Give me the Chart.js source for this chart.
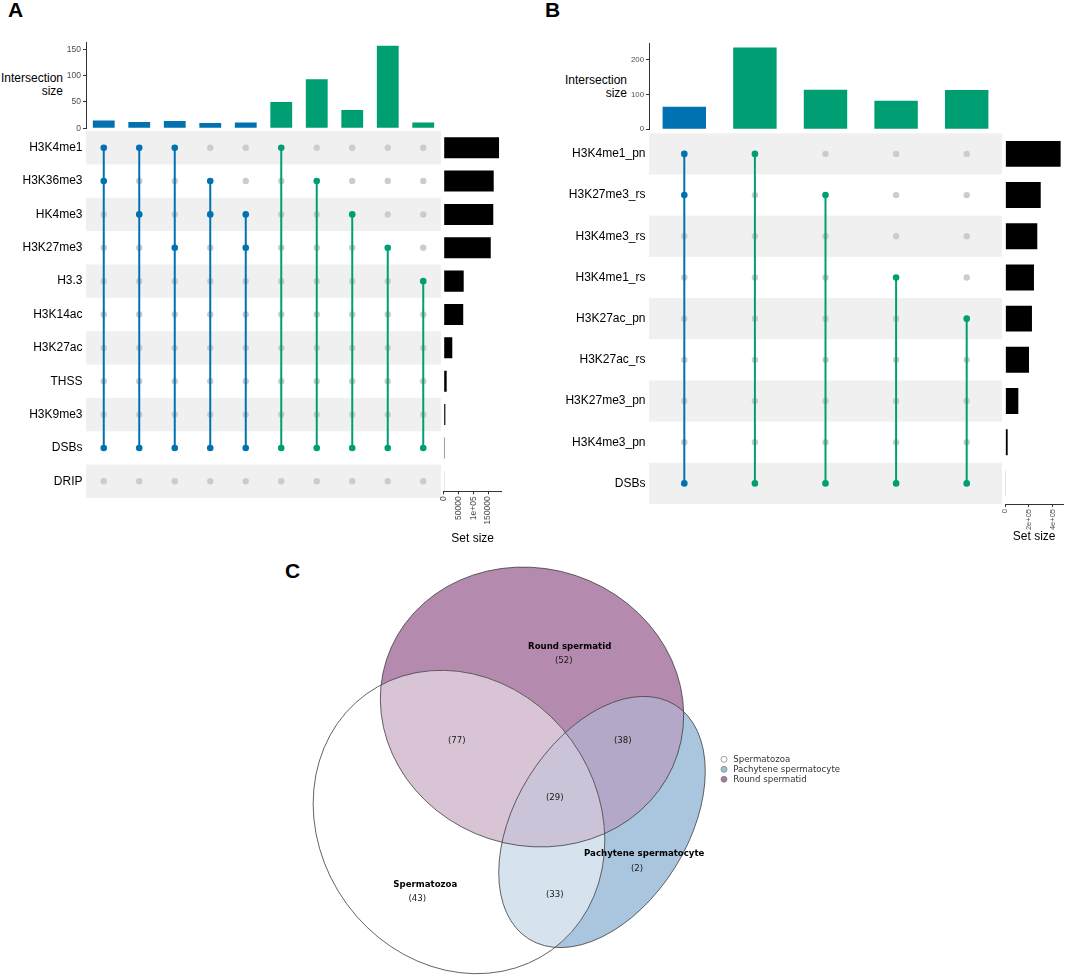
<!DOCTYPE html>
<html>
<head>
<meta charset="utf-8">
<script src="https://cdn.jsdelivr.net/npm/chart.js@4.4.1/dist/chart.umd.min.js"></script>
<style>
  html, body { margin: 0; padding: 0; background: #ffffff; }
  #fig { position: relative; width: 1065px; height: 975px; overflow: hidden; background: #fff;
         font-family: 'Liberation Sans', Arial, Helvetica, sans-serif; }
  .panel { position: absolute; font-weight: bold; font-size: 21px; line-height: 21px; color: #000; }
  .ytitle { position: absolute; font-size: 12px; line-height: 13px; text-align: right; color: #000; }
  canvas { position: absolute; }
</style>
</head>
<body>
<div id="fig">
  <div class="panel" style="left:8px;top:-1px;">A</div>
  <div class="panel" style="left:545px;top:-1px;">B</div>
  <div class="panel" style="left:285px;top:560px;">C</div>
  <div class="ytitle" style="left:0px;top:72px;width:63px;">Intersection<br>size</div>
  <div class="ytitle" style="left:560px;top:74px;width:67px;">Intersection<br>size</div>
</div>
<script>
// ---------------- DATA ----------------
// Panel A
const setsA = ['H3K4me1', 'H3K36me3', 'HK4me3', 'H3K27me3', 'H3.3', 'H3K14ac', 'H3K27ac', 'THSS', 'H3K9me3', 'DSBs', 'DRIP'];
const setSizeA = [187000, 169000, 167500, 159000, 67600, 66000, 29000, 10000, 5600, 3000, 2000];
const interSizeA = [15, 12, 14, 10, 11, 50, 93, 35, 157, 11];
const interSetsA = [
  ['H3K4me1', 'H3K36me3', 'DSBs'],
  ['H3K4me1', 'HK4me3', 'DSBs'],
  ['H3K4me1', 'H3K27me3', 'DSBs'],
  ['H3K36me3', 'HK4me3', 'DSBs'],
  ['HK4me3', 'H3K27me3', 'DSBs'],
  ['H3K4me1', 'DSBs'],
  ['H3K36me3', 'DSBs'],
  ['HK4me3', 'DSBs'],
  ['H3K27me3', 'DSBs'],
  ['H3.3', 'DSBs']
];
const interTicksA = [0, 50, 100, 150];
const sizeTicksA = [0, 50000, 100000, 150000];
const sizeTickLabelsA = ['0', '50000', '1e+05', '150000'];

// Panel B
const setsB = ['H3K4me1_pn', 'H3K27me3_rs', 'H3K4me3_rs', 'H3K4me1_rs', 'H3K27ac_pn', 'H3K27ac_rs', 'H3K27me3_pn', 'H3K4me3_pn', 'DSBs'];
const setSizeB = [467000, 299000, 270000, 242000, 225000, 200000, 110000, 20000, 3000];
const interSizeB = [65, 236, 114, 82, 113];
const interSetsB = [
  ['H3K4me1_pn', 'H3K27me3_rs', 'DSBs'],
  ['H3K4me1_pn', 'DSBs'],
  ['H3K27me3_rs', 'DSBs'],
  ['H3K4me1_rs', 'DSBs'],
  ['H3K27ac_pn', 'DSBs']
];
const interTicksB = [0, 100, 200];
const sizeTicksB = [0, 200000, 400000];
const sizeTickLabelsB = ['0', '2e+05', '4e+05'];

// Panel C (Venn)
const vennSets = ['Spermatozoa', 'Pachytene spermatocyte', 'Round spermatid'];
const vennRegionKeys = ['S', 'P', 'R', 'SP', 'SR', 'PR', 'SPR'];
const vennRegionCounts = [43, 2, 52, 33, 77, 38, 29];

// ---------------- LAYOUT / STYLE ----------------
const BLUE = '#0072B2', GREEN = '#009E73';
const degreeColor = m => (m.length >= 3 ? BLUE : GREEN);

// Venn geometry, in the venn chart's data units (1 unit = 1 px of its canvas)
const VENN_SHAPES = {
  S: { cx: 179, cy: 267, a: 158, b: 139, rot: 54 },
  P: { cx: 322, cy: 267, a: 138, b: 86, rot: -58 },
  R: { cx: 252, cy: 152, a: 153, b: 138.5, rot: 18 }
};
const VENN_FILL = { S: '#ffffff', P: '#A9C6DE', R: '#B48AAE', SP: '#D6E2EE', SR: '#D9C4D6', PR: '#B4A8C8', SPR: '#CBC4D8' };
const VENN_COUNT_POS = { S: [137.2, 343.3], P: [357, 313.3], R: [283.8, 105.5], SP: [274.7, 339.3], SR: [176.8, 186], PR: [342.8, 186], SPR: [274.7, 242.7] };
const VENN_NAME_POS = [[145.3, 330], [364.2, 299.2], [289.7, 92]];
const VENN_LEGEND = { x: 444, y0: 204.3, dy: 10, tx: 453.3 };

Chart.defaults.font.family = "'Liberation Sans', Arial, Helvetica, sans-serif";
Chart.defaults.color = '#000';

function canvasAt(l, t, w, h) {
  const c = document.createElement('canvas');
  c.width = w; c.height = h;
  c.style.left = l + 'px'; c.style.top = t + 'px';
  c.style.width = w + 'px'; c.style.height = h + 'px';
  document.getElementById('fig').appendChild(c);
  return c;
}

const baseOpts = { responsive: false, animation: false, events: [],
  plugins: { legend: { display: false }, tooltip: { enabled: false } } };

function intersectionChart(cv, values, members, yMax, ticks, tickFont, pad, axisW) {
  return new Chart(cv, {
    type: 'bar',
    data: { labels: values.map((_, i) => 'I' + (i + 1)),
      datasets: [{ data: values, backgroundColor: members.map(degreeColor), borderWidth: 0,
        barPercentage: 0.615, categoryPercentage: 1 }] },
    options: Object.assign({}, baseOpts, {
      layout: { padding: pad },
      scales: {
        x: { display: false, offset: true },
        y: { min: 0, max: yMax,
          afterBuildTicks(s) { s.ticks = ticks.map(v => ({ value: v })); },
          ticks: { color: '#4d4d4d', font: { size: tickFont }, padding: 2 },
          grid: { drawOnChartArea: false, drawTicks: true, tickLength: 3, color: '#333' },
          border: { display: true, color: '#333', width: 1 },
          afterFit(s) { s.width = axisW; } }
      }
    })
  });
}

function matrixChart(cv, sets, members, pad, axisW) {
  const gray = [];
  members.forEach((m, c) => sets.forEach((s, r) => { if (!m.includes(s)) gray.push({ x: c, y: r }); }));
  const ds = [{ type: 'scatter', data: gray, pointRadius: 3.2, pointBackgroundColor: '#cccccc',
    pointBorderWidth: 0, order: 2 }];
  members.forEach((m, c) => {
    const col = degreeColor(m);
    ds.push({ type: 'line', data: m.map(s => ({ x: c, y: sets.indexOf(s) })).sort((p, q) => p.y - q.y),
      borderColor: col, backgroundColor: col, pointBackgroundColor: col, pointBorderWidth: 0,
      pointRadius: 3.3, borderWidth: 2, fill: false, order: 1 });
  });
  const stripes = { id: 'stripes', beforeDatasetsDraw(ch) {
    const { ctx, chartArea: a, scales: { y } } = ch;
    ctx.save(); ctx.fillStyle = '#f0f0f0';
    sets.forEach((s, r) => {
      if (r % 2 === 0) {
        const t = y.getPixelForValue(r - 0.5), b = y.getPixelForValue(r + 0.5);
        ctx.fillRect(a.left, Math.min(t, b), a.right - a.left, Math.abs(b - t));
      }
    });
    ctx.restore();
  } };
  return new Chart(cv, {
    type: 'scatter',
    data: { datasets: ds },
    options: Object.assign({}, baseOpts, {
      layout: { padding: pad },
      scales: {
        x: { type: 'linear', min: -0.5, max: members.length - 0.5, display: false, offset: false },
        y: { type: 'linear', min: -0.5, max: sets.length - 0.5, reverse: true, offset: false,
          afterBuildTicks(s) { s.ticks = sets.map((_, i) => ({ value: i })); },
          ticks: { callback: v => sets[v], font: { size: 12 }, color: '#000', padding: 3.5, autoSkip: false },
          grid: { display: false, drawTicks: false }, border: { display: false },
          afterFit(s) { s.width = axisW; } }
      }
    }),
    plugins: [stripes]
  });
}

function setSizeChart(cv, sizes, xMax, ticks, tickLabels, tickFont, yMaxIdx, pad, axisH) {
  return new Chart(cv, {
    type: 'bar',
    data: { datasets: [{ data: sizes.map((v, i) => ({ x: v, y: i })), backgroundColor: '#000',
      borderWidth: 0, barPercentage: 0.63, categoryPercentage: 1 }] },
    options: Object.assign({}, baseOpts, {
      indexAxis: 'y',
      layout: { padding: pad },
      scales: {
        y: { type: 'linear', min: -0.5, max: yMaxIdx, reverse: true, display: false, offset: false,
          afterBuildTicks(s) { s.ticks = sizes.map((_, i) => ({ value: i })); } },
        x: { type: 'linear', min: 0, max: xMax, offset: false,
          afterBuildTicks(s) { s.ticks = ticks.map(v => ({ value: v })); },
          ticks: { callback: v => tickLabels[ticks.indexOf(v)], minRotation: 90, maxRotation: 90,
            autoSkip: false, font: { size: tickFont }, color: '#4d4d4d', padding: 2 },
          grid: { drawOnChartArea: false, drawTicks: true, tickLength: 3, color: '#333' },
          border: { display: true, color: '#333', width: 1 },
          title: { display: true, text: 'Set size', font: { size: 12 }, color: '#000', padding: 0 },
          afterFit(s) { s.height = axisH; } }
      }
    })
  });
}

// ---------------- PANEL A ----------------
intersectionChart(canvasAt(0, 20, 450, 125), interSizeA, interSetsA, 164, interTicksA, 8.5,
  { left: 0, top: 22, right: 9, bottom: 16.7 }, 86);
matrixChart(canvasAt(0, 110, 450, 410), setsA, interSetsA,
  { left: 0, top: 21, right: 9, bottom: 22 }, 86);
setSizeChart(canvasAt(430, 110, 110, 450), setSizeA, 196000, sizeTicksA, sizeTickLabelsA, 8.5, 10.3,
  { left: 13.7, top: 21, right: 38.3, bottom: 13.7 }, 55);

// ---------------- PANEL B ----------------
intersectionChart(canvasAt(560, 20, 505, 125), interSizeB, interSetsB, 248, interTicksB, 7.8,
  { left: 0, top: 23.3, right: 63, bottom: 15.7 }, 89);
matrixChart(canvasAt(560, 110, 505, 420), setsB, interSetsB,
  { left: 0, top: 23.3, right: 63, bottom: 26 }, 89);
setSizeChart(canvasAt(990, 110, 75, 450), setSizeB, 487000, sizeTicksB, sizeTickLabelsB, 7.5, 8.5,
  { left: 15.3, top: 23.3, right: 2, bottom: 15.8 }, 40.2);

// ---------------- PANEL C (Venn) ----------------
const vennPlugin = {
  id: 'venn',
  beforeDatasetsDraw(ch) {
    const { ctx, scales: { x, y } } = ch;
    const path = k => {
      const e = VENN_SHAPES[k];
      const cx = x.getPixelForValue(e.cx), cy = y.getPixelForValue(e.cy);
      const rx = Math.abs(x.getPixelForValue(e.cx + e.a) - cx);
      const ry = Math.abs(y.getPixelForValue(e.cy + e.b) - cy);
      ctx.beginPath();
      ctx.ellipse(cx, cy, rx, ry, e.rot * Math.PI / 180, 0, Math.PI * 2);
    };
    const fill = (k, col) => { path(k); ctx.fillStyle = col; ctx.fill(); };
    ctx.save();
    fill('R', VENN_FILL.R);
    fill('P', VENN_FILL.P);
    ctx.save(); path('R'); ctx.clip(); fill('P', VENN_FILL.PR); ctx.restore();
    fill('S', VENN_FILL.S);
    ctx.save(); path('S'); ctx.clip();
    fill('R', VENN_FILL.SR);
    fill('P', VENN_FILL.SP);
    path('R'); ctx.clip(); fill('P', VENN_FILL.SPR);
    ctx.restore();
    ctx.strokeStyle = '#3c3c3c'; ctx.lineWidth = 0.8;
    ['S', 'P', 'R'].forEach(k => { path(k); ctx.stroke(); });
    ctx.restore();
  },
  afterDatasetsDraw(ch) {
    const { ctx, scales: { x, y } } = ch;
    ctx.save();
    ctx.textAlign = 'center'; ctx.textBaseline = 'middle';
    const mCounts = ch.getDatasetMeta(0);
    ctx.font = "8.6px 'DejaVu Sans'"; ctx.fillStyle = '#1a1a1a';
    mCounts.data.forEach((pt, i) => ctx.fillText('(' + vennRegionCounts[i] + ')', pt.x, pt.y));
    const mNames = ch.getDatasetMeta(1);
    ctx.font = "bold 8.6px 'DejaVu Sans'"; ctx.fillStyle = '#000';
    mNames.data.forEach((pt, i) => ctx.fillText(vennSets[i], pt.x, pt.y));
    ctx.textAlign = 'left';
    ctx.font = "8.6px 'DejaVu Sans'";
    const legendCols = [VENN_FILL.S, '#9EBEDA', '#A67BA1'];
    vennSets.forEach((name, i) => {
      const cx = x.getPixelForValue(VENN_LEGEND.x), cy = y.getPixelForValue(VENN_LEGEND.y0 + i * VENN_LEGEND.dy);
      ctx.beginPath(); ctx.arc(cx, cy, 3, 0, Math.PI * 2);
      ctx.fillStyle = legendCols[i]; ctx.fill();
      ctx.strokeStyle = '#777'; ctx.lineWidth = 0.7; ctx.stroke();
      ctx.fillStyle = '#333';
      ctx.fillText(name, x.getPixelForValue(VENN_LEGEND.tx), cy);
    });
    ctx.restore();
  }
};

new Chart(canvasAt(280, 555, 785, 420), {
  type: 'scatter',
  data: { datasets: [
    { label: 'counts', data: vennRegionKeys.map(k => ({ x: VENN_COUNT_POS[k][0], y: VENN_COUNT_POS[k][1] })), pointRadius: 0 },
    { label: 'names', data: VENN_NAME_POS.map(p => ({ x: p[0], y: p[1] })), pointRadius: 0 }
  ] },
  options: Object.assign({}, baseOpts, {
    layout: { padding: 0 },
    scales: {
      x: { type: 'linear', min: 0, max: 785, display: false },
      y: { type: 'linear', min: 0, max: 420, reverse: true, display: false }
    }
  }),
  plugins: [vennPlugin]
});
</script>
</body>
</html>
